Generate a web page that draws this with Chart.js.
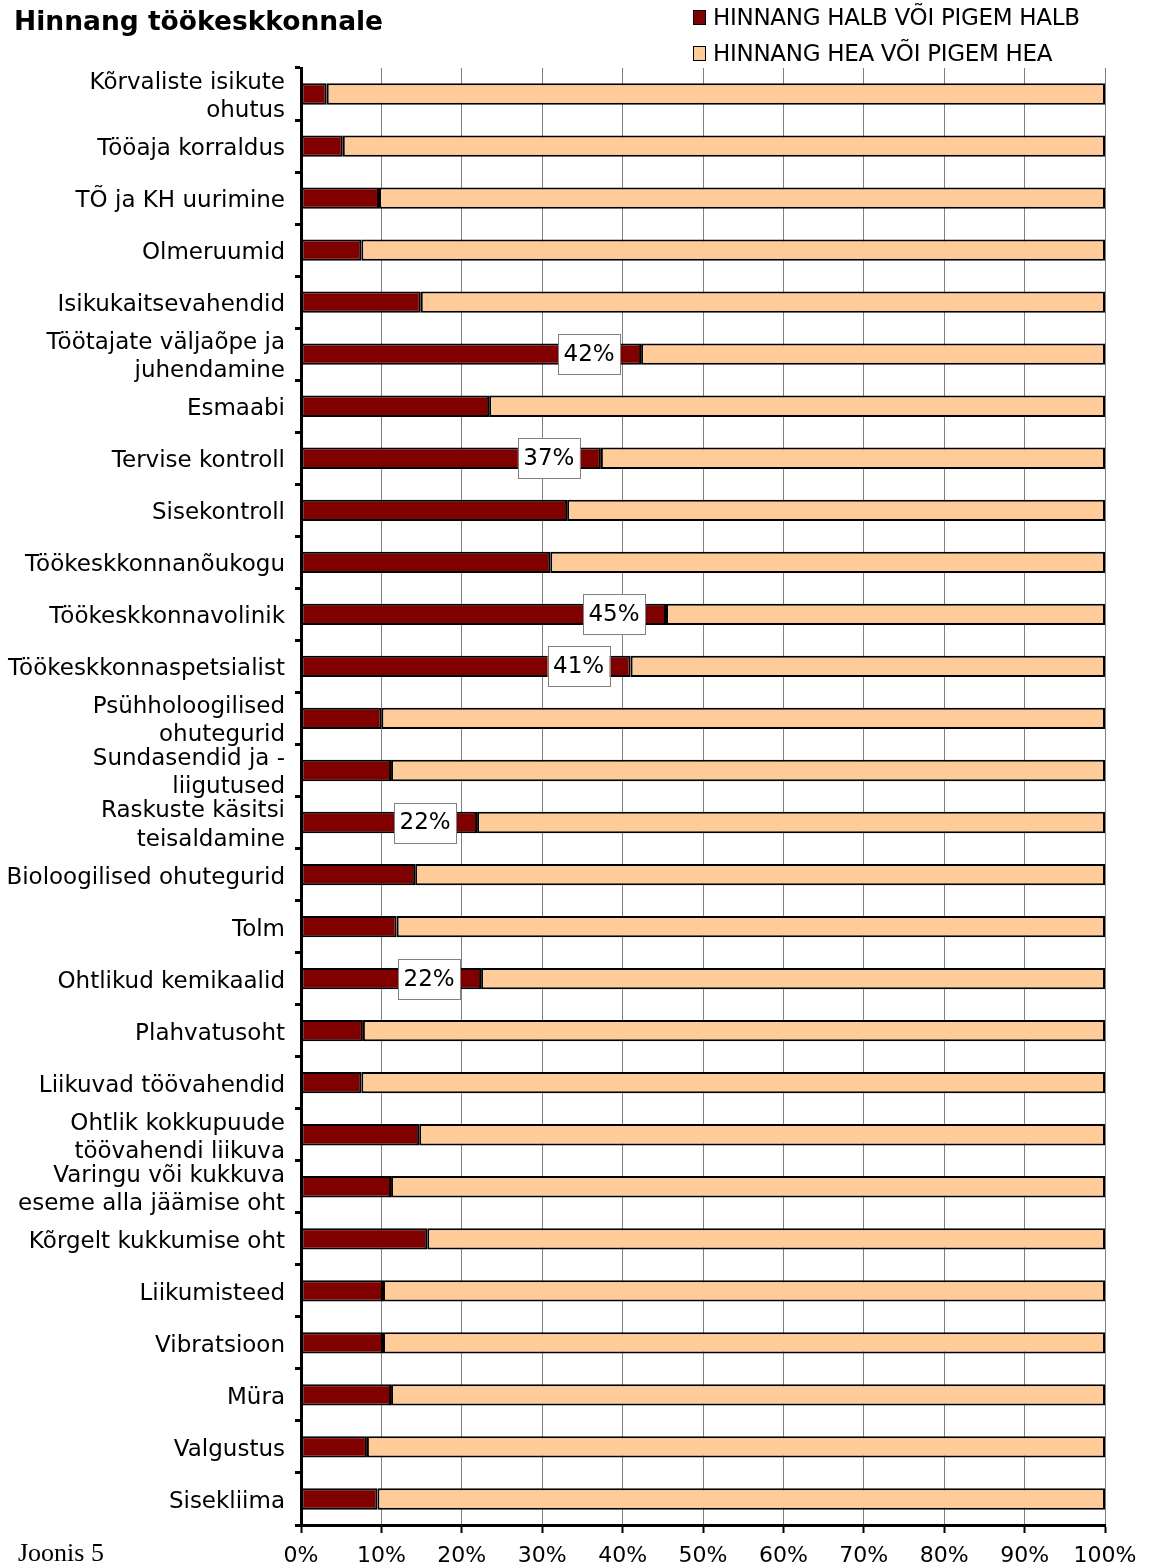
<!DOCTYPE html>
<html>
<head>
<meta charset="utf-8">
<script src="https://cdn.jsdelivr.net/npm/chart.js@4"></script>
<style>
  body { margin: 0; background: #fff; }
  #wrap { position: relative; width: 1150px; height: 1566px; }
  #title { position: absolute; left: 14px; top: 5px; font: bold 26.5px "DejaVu Sans"; color: #000; }
  .leg { position: absolute; left: 693px; font: 23px "DejaVu Sans"; color: #000; white-space: nowrap; letter-spacing: -0.3px; }
  .leg span { display: inline-block; width: 11px; height: 13px; border: 1px solid #000; margin-right: 7px; vertical-align: 0px; }
  #joonis { position: absolute; left: 18px; top: 1538px; font: 26px "Liberation Serif"; color: #000; }
</style>
</head>
<body>
<div id="wrap">
  <canvas id="chart" width="1150" height="1566"></canvas>
  <div id="title">Hinnang töökeskkonnale</div>
  <div class="leg" style="top:4px"><span style="background:#800000"></span>HINNANG HALB VÕI PIGEM HALB</div>
  <div class="leg" style="top:40px"><span style="background:#FFCC99"></span>HINNANG HEA VÕI PIGEM HEA</div>
  <div id="joonis">Joonis 5</div>
</div>
<script>
const categories = [
    ['Kõrvaliste isikute', 'ohutus'],
    'Tööaja korraldus',
    'TÕ ja KH uurimine',
    'Olmeruumid',
    'Isikukaitsevahendid',
    ['Töötajate väljaõpe ja', 'juhendamine'],
    'Esmaabi',
    'Tervise kontroll',
    'Sisekontroll',
    'Töökeskkonnanõukogu',
    'Töökeskkonnavolinik',
    'Töökeskkonnaspetsialist',
    ['Psühholoogilised', 'ohutegurid'],
    ['Sundasendid ja -', 'liigutused'],
    ['Raskuste käsitsi', 'teisaldamine'],
    'Bioloogilised ohutegurid',
    'Tolm',
    'Ohtlikud kemikaalid',
    'Plahvatusoht',
    'Liikuvad töövahendid',
    ['Ohtlik kokkupuude', 'töövahendi liikuva'],
    ['Varingu või kukkuva', 'eseme alla jäämise oht'],
    'Kõrgelt kukkumise oht',
    'Liikumisteed',
    'Vibratsioon',
    'Müra',
    'Valgustus',
    'Sisekliima'
];

// share of "bad" answers, %
const badValues = [3.2, 5.2, 9.7, 7.5, 14.9, 42.3, 23.4, 37.3, 33.1, 31.0, 45.4, 41.0, 10.0, 11.2,
    21.9, 14.2, 11.9, 22.4, 7.7, 7.5, 14.7, 11.2, 15.7, 10.2, 10.2, 11.2, 8.2, 9.5];
const goodValues = badValues.map(v => 100 - v);

// bars that carry a value label in the original
const labelled = [5, 7, 10, 11, 14, 17];

const xTicks = [0, 10, 20, 30, 40, 50, 60, 70, 80, 90, 100];


// value boxes drawn a bit left of the end of the red bar
const valueBoxes = {
    id: 'valueBoxes',
    afterDatasetsDraw(chart) {
        const ctx = chart.ctx;
        const xs = chart.scales.x;
        const ys = chart.scales.y;
        ctx.save();
        ctx.font = '23px "DejaVu Sans"';
        ctx.textAlign = 'center';
        ctx.textBaseline = 'middle';
        labelled.forEach(i => {
            const cx = xs.getPixelForValue(badValues[i]) - 52;
            const cy = ys.getPixelForValue(i);
            ctx.fillStyle = '#fff';
            ctx.fillRect(cx - 31, cy - 20, 62, 40);
            ctx.strokeStyle = '#808080';
            ctx.lineWidth = 1;
            ctx.strokeRect(Math.round(cx - 31) + 0.5, Math.round(cy - 20) + 0.5, 62, 40);
            ctx.fillStyle = '#000';
            ctx.fillText(Math.round(badValues[i]) + '%', cx, cy + 1);
        });
        ctx.restore();
    }
};

new Chart(document.querySelector('#chart').getContext('2d'), {
    type: 'bar',
    data: {
        labels: categories,
        datasets: [
            {
                label: 'HINNANG HALB VÕI PIGEM HALB',
                data: badValues,
                backgroundColor: '#800000',
                borderColor: '#000',
                borderWidth: 2,
                borderSkipped: false,
                barPercentage: 0.41,
                categoryPercentage: 1
            },
            {
                label: 'HINNANG HEA VÕI PIGEM HEA',
                data: goodValues,
                backgroundColor: '#FFCC99',
                borderColor: '#000',
                borderWidth: 2,
                borderSkipped: false,
                barPercentage: 0.41,
                categoryPercentage: 1
            }
        ]
    },
    options: {
        indexAxis: 'y',
        responsive: false,
        animation: false,
        layout: { padding: { top: 68, right: 45, left: 0, bottom: 0 } },
        plugins: {
            legend: { display: false },
            tooltip: { enabled: false }
        },
        scales: {
            x: {
                stacked: true,
                min: 0,
                max: 100,
                afterBuildTicks: s => { s.ticks = xTicks.map(v => ({ value: v })); },
                afterFit: s => { s.height = 41; },
                grid: {
                    color: '#808080',
                    lineWidth: 1,
                    drawTicks: true,
                    tickLength: 8,
                    tickColor: '#000',
                    tickWidth: 2
                },
                border: { display: true, color: '#000', width: 3 },
                ticks: {
                    color: '#000',
                    font: { family: 'DejaVu Sans', size: 22 },
                    padding: 10,
                    maxRotation: 0,
                    callback: v => v + '%'
                }
            },
            y: {
                stacked: true,
                afterFit: s => { s.width = 301; },
                grid: {
                    drawOnChartArea: false,
                    drawTicks: true,
                    tickLength: 6,
                    tickColor: '#000',
                    tickWidth: 3,
                    offset: true
                },
                border: { display: true, color: '#000', width: 3 },
                ticks: {
                    color: '#000',
                    font: { family: 'DejaVu Sans', size: 23, lineHeight: 1.22 },
                    padding: 10,
                    labelOffset: 3,
                    autoSkip: false
                }
            }
        }
    },
    plugins: [valueBoxes]
});
</script>
</body>
</html>
